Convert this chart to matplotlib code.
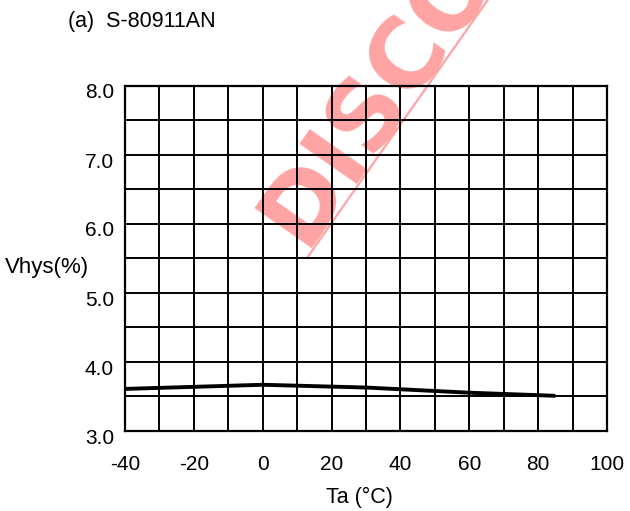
import numpy as np
import matplotlib
matplotlib.use("Agg")
import matplotlib.pyplot as plt
from matplotlib.transforms import ScaledTranslation
from matplotlib.lines import Line2D

plt.rcParams['font.family'] = ['Liberation Sans', 'DejaVu Sans']

# Hysteresis voltage vs ambient temperature
ta = [-40, 0, 30, 60, 85]
vhys = [3.61, 3.67, 3.63, 3.555, 3.51]

x_ticks = [-40, -20, 0, 20, 40, 60, 80, 100]
y_ticks = [3.0, 4.0, 5.0, 6.0, 7.0, 8.0]

W, H, DPI = 630, 511, 100
fig = plt.figure(figsize=(W / DPI, H / DPI), dpi=DPI)
fig.patch.set_facecolor('white')

ax = fig.add_axes([125 / W, 1 - 431 / H, (607 - 125) / W, (431 - 86) / H])
ax.patch.set_alpha(0)
ax.set_zorder(2)

ax.set_xlim(-40, 100)
ax.set_ylim(3.0, 8.0)

# fine grid: every 10 degC and every 0.5 %
for xv in np.arange(-30, 100, 10):
    ax.axvline(xv, color='black', lw=1.4, zorder=1)
for yv in np.arange(3.5, 8.0, 0.5):
    ax.axhline(yv, color='black', lw=1.4, zorder=1)

ax.plot(ta, vhys, color='black', lw=2.8, solid_capstyle='butt', zorder=3)

for s in ax.spines.values():
    s.set_linewidth(1.6)
    s.set_color('black')

ax.set_xticks(x_ticks)
ax.set_xticklabels([f"{v:d}" for v in x_ticks])
ax.set_yticks(y_ticks)
ax.set_yticklabels([f"{v:.1f}" for v in y_ticks])
ax.tick_params(axis='both', length=0, labelsize=15)
ax.tick_params(axis='x', pad=17)
ax.tick_params(axis='y', pad=8)
for lbl in ax.get_yticklabels():
    lbl.set_transform(lbl.get_transform() + ScaledTranslation(0, -5 / 100, fig.dpi_scale_trans))

fig.text(68 / W, 1 - 22 / H, "(a)  S-80911AN", fontsize=15.5, ha='left', va='center')
fig.text(5 / W, 1 - 268 / H, "Vhys(%)", fontsize=16, ha='left', va='center')
fig.text(359 / W, 1 - 497 / H, "Ta (\u00b0C)", fontsize=15.5, ha='center', va='center')

# red "DISCONTINUED" stamp behind the grid
ang = 55
wm_color = '#ffa3a3'
fig.text(303 / W, 1 - 248 / H, "DISCONTINUED", fontsize=69, fontweight='bold',
         family='DejaVu Sans', color=wm_color, rotation=ang, rotation_mode='anchor',
         ha='left', va='baseline', zorder=0)
t = np.radians(ang)
x0, y0 = 307, 258
L = 400
fig.add_artist(Line2D([x0 / W, (x0 + L * np.cos(t)) / W],
                      [1 - y0 / H, 1 - (y0 - L * np.sin(t)) / H],
                      color=wm_color, lw=1.6, zorder=0))

fig.savefig("out.png", dpi=DPI)
